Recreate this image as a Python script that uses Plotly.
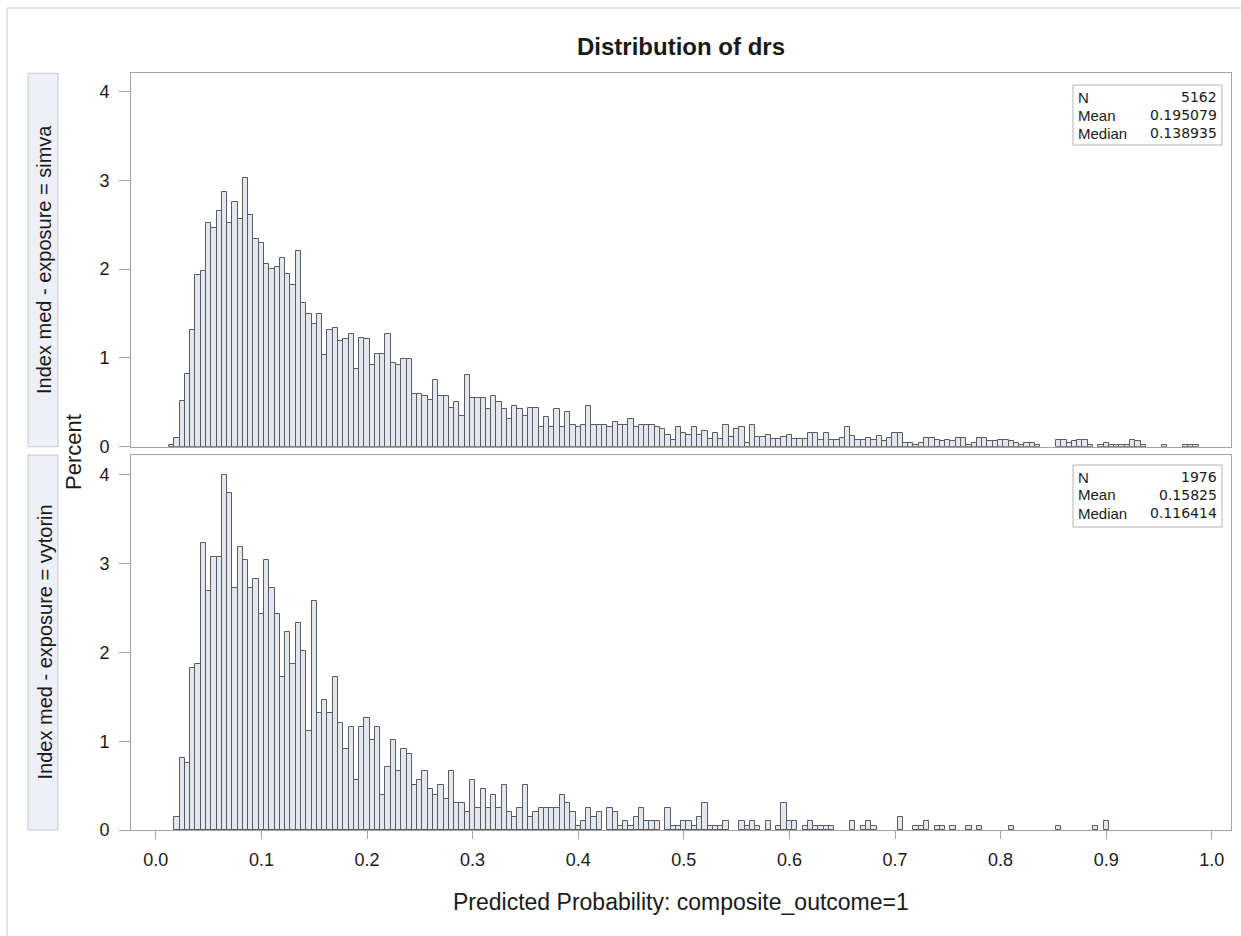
import plotly.graph_objects as go

# ---------------- data ----------------
bin_width = 0.005

simva_start = 0.015
simva_pct = [
    0.02, 0.10, 0.51, 0.82, 1.32, 1.93, 1.98, 2.52, 2.46, 2.65,
    2.87, 2.52, 2.76, 2.57, 3.03, 2.61, 2.34, 2.30, 2.06, 2.00,
    2.02, 2.13, 1.95, 1.82, 2.21, 1.62, 1.49, 1.38, 1.49, 1.03,
    1.31, 1.34, 1.19, 1.21, 1.27, 0.88, 1.23, 1.21, 0.92, 1.05,
    1.05, 1.27, 0.94, 0.92, 0.99, 0.99, 0.59, 0.59, 0.57, 0.53,
    0.75, 0.57, 0.57, 0.44, 0.50, 0.35, 0.81, 0.55, 0.55, 0.55,
    0.42, 0.57, 0.50, 0.42, 0.31, 0.46, 0.42, 0.35, 0.44, 0.44,
    0.22, 0.33, 0.22, 0.42, 0.22, 0.39, 0.24, 0.22, 0.24, 0.46,
    0.24, 0.24, 0.24, 0.22, 0.28, 0.24, 0.24, 0.31, 0.22, 0.24,
    0.24, 0.24, 0.22, 0.20, 0.13, 0.07, 0.22, 0.15, 0.13, 0.22,
    0.13, 0.18, 0.09, 0.15, 0.09, 0.24, 0.11, 0.20, 0.22, 0.04,
    0.24, 0.11, 0.11, 0.13, 0.09, 0.09, 0.11, 0.13, 0.09, 0.09,
    0.09,
    0.15, 0.15, 0.08, 0.15, 0.08, 0.08, 0.10, 0.22, 0.12, 0.08,
    0.08, 0.10, 0.08, 0.12, 0.06, 0.10, 0.15, 0.15, 0.04, 0.04,
    0.02, 0.04, 0.10, 0.10, 0.08, 0.06, 0.08, 0.06, 0.10, 0.10,
    0.02, 0.04, 0.10, 0.10, 0.06, 0.06, 0.08, 0.08,
    0.06, 0.04, 0.02, 0.04, 0.04, 0.02, 0, 0, 0, 0.08,
    0.08, 0.04, 0.06, 0.08, 0.08, 0.02, 0, 0.02, 0.04, 0.02,
    0.02, 0.02, 0.02, 0.08, 0.06, 0.02, 0, 0, 0, 0.02,
    0, 0, 0, 0.02, 0.02, 0.02,
]

vytorin_start = 0.020
vytorin_pct = [
    0.15, 0.81, 0.76, 1.82, 1.87, 3.23, 2.69, 3.08, 3.08, 4.00,
    3.80, 2.73, 3.19, 3.04, 2.73, 2.83, 2.43, 3.04, 2.73, 2.43,
    1.72, 2.23, 1.87, 2.33, 2.02, 1.11, 2.58, 1.32, 1.47, 1.32,
    1.72, 1.21, 0.91, 1.16, 0.56, 1.16, 1.26, 1.01, 1.16, 0.40,
    0.71, 1.01, 0.66, 0.91, 0.86, 0.51, 0.56, 0.66, 0.46,
    0.40, 0.51, 0.35, 0.66, 0.30, 0.30, 0.20, 0.56, 0.25, 0.46,
    0.25, 0.40, 0.25, 0.51, 0.20, 0.15, 0.25, 0.51, 0.15, 0.20,
    0.25, 0.25, 0.25, 0.25, 0.40, 0.30, 0.20, 0.05, 0.10, 0.25,
    0.15, 0.20, 0, 0.25, 0.20, 0.05, 0.10, 0.05, 0.15, 0.25,
    0.10, 0.10, 0.10, 0, 0.25, 0.05, 0.05, 0.10, 0.10, 0.05,
    0.15, 0.30, 0.05, 0.05, 0.05, 0.10, 0, 0, 0.10, 0.05,
    0.10, 0.05, 0, 0.10, 0, 0.05, 0.30, 0.10, 0.10, 0,
    0.05, 0.10, 0.05, 0.05, 0.05, 0.05, 0, 0, 0, 0.10,
    0, 0.05, 0.10, 0.05, 0, 0, 0, 0, 0.15, 0,
    0, 0.05, 0.05, 0.10, 0, 0.05, 0.05, 0, 0.05, 0,
    0, 0.05, 0, 0.05, 0, 0, 0, 0, 0, 0.05,
    0, 0, 0, 0, 0, 0, 0, 0, 0.05, 0,
    0, 0, 0, 0, 0, 0.05, 0, 0.10,
]

panel_labels = ["Index med - exposure = simva", "Index med - exposure = vytorin"]
stat_names = ["N", "Mean", "Median"]
simva_stats = ["5162", "0.195079", "0.138935"]
vytorin_stats = ["1976", "0.15825", "0.116414"]

title_text = "Distribution of drs"
x_title = "Predicted Probability: composite_outcome=1"
y_title = "Percent"
x_ticks = [0.0, 0.1, 0.2, 0.3, 0.4, 0.5, 0.6, 0.7, 0.8, 0.9, 1.0]
y_ticks = [0, 1, 2, 3, 4]

# ---------------- geometry helpers ----------------
W_FIG, H_FIG = 1241, 936
L, R, T, B = 131, 1231, 73, 830
PW, PH = R - L, B - T


def px(x):
    return (x - L) / PW


def py(y):
    return (B - y) / PH


FONT = "Liberation Sans, Arial, Helvetica, sans-serif"
FRAME = "#a4a4a4"
BAR_FILL = "#e3e7f0"
BAR_LINE = "#5b5b5b"
TXT = "#1a1a1a"


def centers(start, n):
    return [round(start + i * bin_width, 4) for i in range(n)]


def nz(vals):
    return [v if v > 0 else None for v in vals]


fig = go.Figure()
fig.add_trace(go.Bar(
    x=centers(simva_start, len(simva_pct)), y=nz(simva_pct),
    width=bin_width, xaxis="x", yaxis="y",
    marker=dict(color=BAR_FILL, line=dict(color=BAR_LINE, width=1)),
    showlegend=False,
))
fig.add_trace(go.Bar(
    x=centers(vytorin_start, len(vytorin_pct)), y=nz(vytorin_pct),
    width=bin_width, xaxis="x2", yaxis="y2",
    marker=dict(color=BAR_FILL, line=dict(color=BAR_LINE, width=1)),
    showlegend=False,
))

xr = [(L - 155.8) / 1056, (R - 155.8) / 1056]
axis_common = dict(showline=True, linecolor=FRAME, linewidth=1, mirror=True,
                   showgrid=False, zeroline=False, tickcolor=FRAME, tickwidth=1,
                   tickfont=dict(family=FONT, size=18, color=TXT))

fig.update_layout(
    width=W_FIG, height=H_FIG,
    margin=dict(l=L, r=W_FIG - R, t=T, b=H_FIG - B, pad=0),
    paper_bgcolor="white", plot_bgcolor="white",
    bargap=0,
    font=dict(family=FONT, color=TXT),
    xaxis=dict(domain=[0, 1], anchor="y", range=xr, showticklabels=False,
               ticks="", **axis_common),
    xaxis2=dict(domain=[0, 1], anchor="y2", range=xr, matches="x",
                tickvals=x_ticks, tickformat=".1f", ticks="outside", ticklen=8,
                ticklabelstandoff=5, **axis_common),
    yaxis=dict(domain=[py(446.7), 1], range=[0, 4.21], tickvals=y_ticks,
               ticks="outside", ticklen=11, ticklabelstandoff=6, **axis_common),
    yaxis2=dict(domain=[0, py(455)], range=[0, 4.225], tickvals=y_ticks,
                ticks="outside", ticklen=11, ticklabelstandoff=6, **axis_common),
)

shapes = []
annotations = []

# outer frame lines (left and top)
shapes.append(dict(type="line", xref="paper", yref="paper",
                   x0=px(7), x1=px(7), y0=py(8), y1=py(936),
                   line=dict(color="#c8c8c8", width=1)))
shapes.append(dict(type="line", xref="paper", yref="paper",
                   x0=px(7), x1=px(1241), y0=py(8), y1=py(8),
                   line=dict(color="#c8c8c8", width=1)))

# strip labels
strips = [(73.3, 446.7), (455, 830)]
for (y0, y1), lab in zip(strips, panel_labels):
    shapes.append(dict(type="rect", xref="paper", yref="paper",
                       x0=px(28), x1=px(58), y0=py(y1), y1=py(y0),
                       fillcolor="#eef0f7", line=dict(color="#c6c8d0", width=1),
                       layer="below"))
    annotations.append(dict(xref="paper", yref="paper", x=px(44),
                            y=py((y0 + y1) / 2), text=lab, showarrow=False,
                            textangle=-90, xanchor="center", yanchor="middle",
                            font=dict(family=FONT, size=20, color=TXT)))

# stats inset boxes
boxes = [(85, 145, simva_stats), (465, 527, vytorin_stats)]
for (by0, by1, vals) in boxes:
    shapes.append(dict(type="rect", xref="paper", yref="paper",
                       x0=px(1073), x1=px(1222), y0=py(by1), y1=py(by0),
                       fillcolor="white", line=dict(color="#b4b4b4", width=1)))
    for k, (nm, v) in enumerate(zip(stat_names, vals)):
        yy = by0 + 12 + 18 * k
        annotations.append(dict(xref="paper", yref="paper", x=px(1076), y=py(yy),
                                text=nm, showarrow=False, xanchor="left",
                                yanchor="middle",
                                font=dict(family=FONT, size=15, color=TXT)))
        annotations.append(dict(xref="paper", yref="paper", x=px(1219), y=py(yy),
                                text=v, showarrow=False, xanchor="right",
                                yanchor="middle",
                                font=dict(family="DejaVu Sans, " + FONT, size=14,
                                          color=TXT)))

# title and axis titles
annotations.append(dict(xref="paper", yref="paper", x=px(681), y=py(47),
                        text="<b>" + title_text + "</b>", showarrow=False,
                        xanchor="center", yanchor="middle",
                        font=dict(family=FONT, size=24, color=TXT)))
annotations.append(dict(xref="paper", yref="paper", x=px(681), y=py(902),
                        text=x_title, showarrow=False,
                        xanchor="center", yanchor="middle",
                        font=dict(family=FONT, size=23, color=TXT)))
annotations.append(dict(xref="paper", yref="paper", x=px(73), y=py(452),
                        text=y_title, showarrow=False, textangle=-90,
                        xanchor="center", yanchor="middle",
                        font=dict(family=FONT, size=22, color=TXT)))

fig.update_layout(shapes=shapes, annotations=annotations)

fig.write_html("out.html")
